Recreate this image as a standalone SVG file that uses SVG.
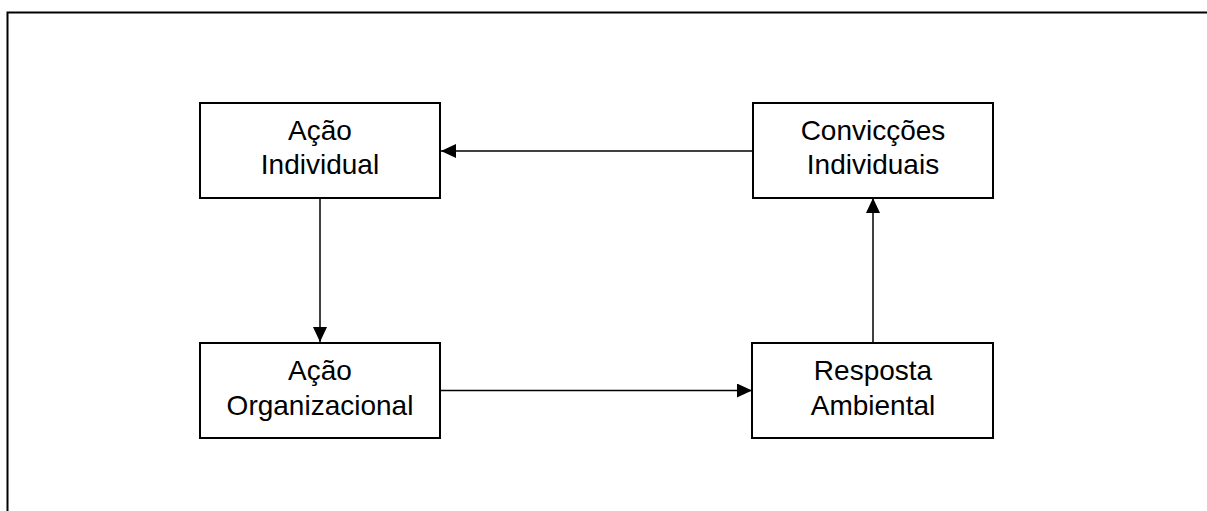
<svg xmlns="http://www.w3.org/2000/svg" width="1207" height="511" viewBox="0 0 1207 511">
<style>
.box{fill:#fff;stroke:#000;stroke-width:2}
.lbl{font-family:"Liberation Sans",Arial,sans-serif;font-size:28px;fill:#000;text-anchor:middle}
.conn{stroke:#000;stroke-width:1.5;fill:none;marker-end:url(#arr)}
.frame{stroke:#000;stroke-width:2;fill:none}
</style>
<defs>
<marker id="arr" viewBox="0 0 15 14" refX="15" refY="7" markerWidth="15" markerHeight="14" markerUnits="userSpaceOnUse" orient="auto">
<path d="M0,0 L15,7 L0,14 Z" fill="#000"/>
</marker>
</defs>
<path class="frame" d="M7.5,511 V12.5 H1207"/>
<g id="connectors">
<line class="conn" x1="752" y1="151" x2="441" y2="151"/>
<line class="conn" x1="320" y1="198" x2="320" y2="342"/>
<line class="conn" x1="440" y1="390.5" x2="752" y2="390.5"/>
<line class="conn" x1="873" y1="342" x2="873" y2="198"/>
</g>
<g id="acao-individual">
<rect class="box" x="200" y="103" width="240" height="95"/>
<text class="lbl" x="320" y="140">Ação</text>
<text class="lbl" x="320" y="174">Individual</text>
</g>
<g id="conviccoes-individuais">
<rect class="box" x="753" y="103" width="240" height="95"/>
<text class="lbl" x="873" y="140">Convicções</text>
<text class="lbl" x="873" y="174">Individuais</text>
</g>
<g id="acao-organizacional">
<rect class="box" x="200" y="343" width="240" height="95"/>
<text class="lbl" x="320" y="380">Ação</text>
<text class="lbl" x="320" y="415">Organizacional</text>
</g>
<g id="resposta-ambiental">
<rect class="box" x="752" y="343" width="241" height="95"/>
<text class="lbl" x="873" y="380">Resposta</text>
<text class="lbl" x="873" y="415">Ambiental</text>
</g>
</svg>
